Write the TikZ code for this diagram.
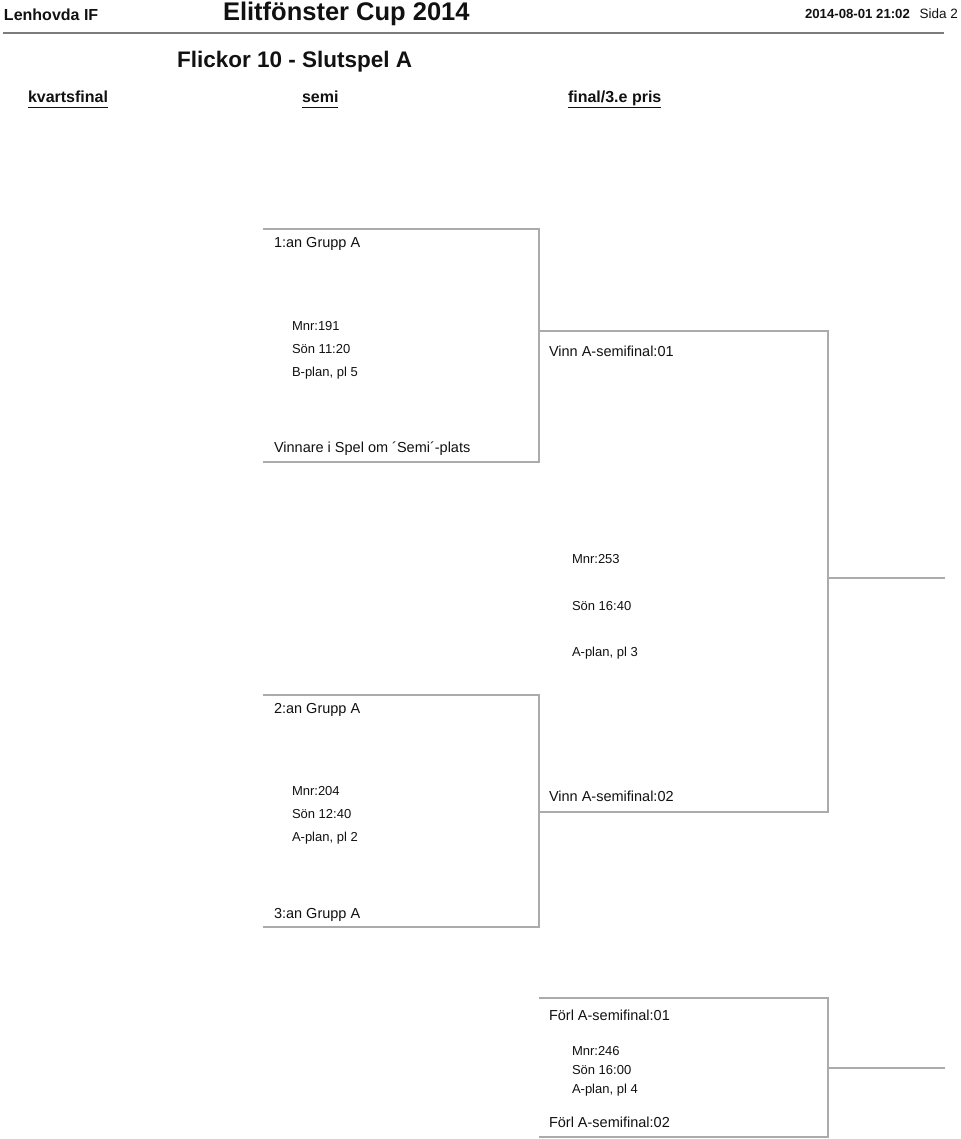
\documentclass[tikz,border=0pt]{standalone}
\usepackage{fontspec}
\setmainfont{Liberation Sans}
\usepackage{tikz}
\usetikzlibrary{positioning}
\definecolor{Ink}{HTML}{111111}
\definecolor{RuleGray}{HTML}{7C7C7C}
\definecolor{BracketGray}{HTML}{ABABAB}
\tikzset{
  basetext/.style={anchor=base west,inner sep=0pt,outer sep=0pt,text=Ink},
  clubname/.style={basetext,font=\bfseries\fontsize{16}{18}\selectfont},
  cuptitle/.style={basetext,font=\bfseries\fontsize{25.5}{28}\selectfont},
  stamp/.style={basetext,font=\bfseries\fontsize{13.2}{16}\selectfont},
  pagenum/.style={basetext,anchor=base east,font=\fontsize{13.5}{16}\selectfont},
  classtitle/.style={basetext,font=\bfseries\fontsize{22.5}{25}\selectfont},
  roundtitle/.style={basetext,font=\bfseries\fontsize{16}{18}\selectfont},
  slotlabel/.style={basetext,font=\fontsize{14.5}{17}\selectfont},
  matchinfo/.style={basetext,font=\fontsize{13}{15}\selectfont},
  headrule/.style={draw=RuleGray,line width=1.6pt},
  underrule/.style={draw=Ink,line width=1.3pt},
  bracket/.style={draw=BracketGray,line width=1.2pt}
}

\begin{document}
\begin{tikzpicture}[x=1pt,y=-1pt]
  \useasboundingbox (0,0) rectangle (960,1139);

  % header
  \node[clubname] (club) at (4,21) {Lenhovda IF};
  \node[cuptitle] (cup) at (223,21) {Elitfönster Cup 2014};
  \node[stamp] (stamp) at (805,18.5) {2014-08-01 21:02};
  \node[pagenum] (page) at (958,18.5) {Sida 2};
  \coordinate (ruleW) at (3,33);
  \coordinate (ruleE) at (944,33);
  \draw[headrule] (ruleW) -- (ruleE);
  \node[classtitle] (class) at (177,68) {Flickor 10 - Slutspel A};

  \node[roundtitle] (rqf) at (28,103) {kvartsfinal};
  \node[roundtitle] (rsf) at (302,103) {semi};
  \node[roundtitle] (rfi) at (568,103) {final/3.e pris};
  \foreach \r in {rqf,rsf,rfi}
    \draw[underrule] ([yshift=-4.5pt]\r.base west) -- ([yshift=-4.5pt]\r.base east);

  % kvartsfinal 1
  \coordinate (qa-tl) at (263,229);
  \coordinate (qa-tr) at (539,229);
  \coordinate (qa-br) at (539,462);
  \coordinate (qa-bl) at (263,462);
  \draw[bracket] (qa-tl) -- (qa-tr) -- (qa-br) -- (qa-bl);
  \node[slotlabel] (qa-home) at (274,248) {1:an Grupp A};
  \node[matchinfo] (qa-nr) at (292,330) {Mnr:191};
  \node[matchinfo] (qa-time) at (292,353) {Sön 11:20};
  \node[matchinfo] (qa-field) at (292,376) {B-plan, pl 5};
  \node[slotlabel] (qa-away) at (274,452) {Vinnare i Spel om ´Semi´-plats};

  % kvartsfinal 2
  \coordinate (qb-tl) at (263,695);
  \coordinate (qb-tr) at (539,695);
  \coordinate (qb-br) at (539,927);
  \coordinate (qb-bl) at (263,927);
  \draw[bracket] (qb-tl) -- (qb-tr) -- (qb-br) -- (qb-bl);
  \node[slotlabel] (qb-home) at (274,713) {2:an Grupp A};
  \node[matchinfo] (qb-nr) at (292,795.5) {Mnr:204};
  \node[matchinfo] (qb-time) at (292,818.5) {Sön 12:40};
  \node[matchinfo] (qb-field) at (292,841.5) {A-plan, pl 2};
  \node[slotlabel] (qb-away) at (274,918) {3:an Grupp A};

  % semi
  \coordinate (sf-tl) at (539,331);
  \coordinate (sf-tr) at (828,331);
  \coordinate (sf-br) at (828,812);
  \coordinate (sf-bl) at (539,812);
  \draw[bracket] (sf-tl) -- (sf-tr) -- (sf-br) -- (sf-bl);
  \node[slotlabel] (sf-home) at (549,356) {Vinn A-semifinal:01};
  \node[matchinfo] (sf-nr) at (572,563) {Mnr:253};
  \node[matchinfo] (sf-time) at (572,610) {Sön 16:40};
  \node[matchinfo] (sf-field) at (572,656) {A-plan, pl 3};
  \node[slotlabel] (sf-away) at (549,801) {Vinn A-semifinal:02};
  \coordinate (fi-in) at (828,578);
  \coordinate (fi-out) at (945,578);
  \draw[bracket] (fi-in) -- (fi-out);

  % match om 3:e pris
  \coordinate (bz-tl) at (539,998);
  \coordinate (bz-tr) at (828,998);
  \coordinate (bz-br) at (828,1137);
  \coordinate (bz-bl) at (539,1137);
  \draw[bracket] (bz-tl) -- (bz-tr) -- (bz-br) -- (bz-bl);
  \node[slotlabel] (bz-home) at (549,1020) {Förl A-semifinal:01};
  \node[matchinfo] (bz-nr) at (572,1055.5) {Mnr:246};
  \node[matchinfo] (bz-time) at (572,1074.5) {Sön 16:00};
  \node[matchinfo] (bz-field) at (572,1093.5) {A-plan, pl 4};
  \node[slotlabel] (bz-away) at (549,1127) {Förl A-semifinal:02};
  \coordinate (bz-in) at (828,1068);
  \coordinate (bz-out) at (945,1068);
  \draw[bracket] (bz-in) -- (bz-out);
\end{tikzpicture}
\end{document}
